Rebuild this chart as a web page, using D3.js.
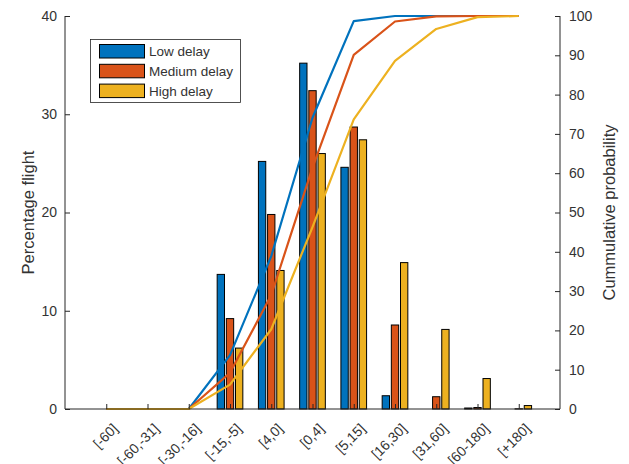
<!DOCTYPE html>
<html>
<head>
<meta charset="utf-8">
<script src="https://cdn.jsdelivr.net/npm/d3@7"></script>
<style>
  html, body { margin: 0; padding: 0; background: #fff; }
  svg { display: block; font-family: "Liberation Sans", Arial, sans-serif; }
</style>
</head>
<body>
<svg id="chart" width="629" height="464"></svg>
<script>
// ---- data ----
const categories = ["[-60]", "[-60,-31]", "[-30,-16]", "[-15,-5]", "[4,0]", "[0,4]", "[5,15]", "[16,30]", "[31,60]", "[60-180]", "[+180]"];
const seriesNames = ["Low delay", "Medium delay", "High delay"];
const lowPct    = [0, 0, 0, 13.7, 25.2, 35.2, 24.6, 1.35, 0, 0.1, 0];
const mediumPct = [0, 0, 0, 9.2, 19.8, 32.4, 28.7, 8.55, 1.25, 0.15, 0.02];
const highPct   = [0, 0, 0, 6.2, 14.1, 26.0, 27.4, 14.9, 8.1, 3.1, 0.35];
const lowCum    = [0, 0, 0, 13.7, 38.9, 74.1, 98.7, 100, 100, 100, 100];
const mediumCum = [0, 0, 0, 9.2, 29.0, 61.4, 90.1, 98.6, 99.9, 100, 100];
const highCum   = [0, 0, 0, 6.2, 20.3, 46.3, 73.7, 88.6, 96.7, 99.7, 100];
const leftTicks  = [0, 10, 20, 30, 40];
const rightTicks = [0, 10, 20, 30, 40, 50, 60, 70, 80, 90, 100];
const colors = ["#0072BD", "#D95319", "#EDB120"];

const pctSeries = [lowPct, mediumPct, highPct];
const cumSeries = [lowCum, mediumCum, highCum];

// ---- layout ----
const L = 65, R = 560, T = 16, B = 409;
const svg = d3.select("#chart");
const axisColor = "#262626";
const textColor = "#333333";
const tickFont = 14;
const titleFont = 16.5;

const x = d3.scaleLinear().domain([0, categories.length + 1]).range([L, R]);
const yL = d3.scaleLinear().domain([0, 40]).range([B, T]);
const yR = d3.scaleLinear().domain([0, 100]).range([B, T]);

const unit = x(1) - x(0);
const slot = unit * 0.6667 / 3;
const barW = slot * 0.8;

// bars
pctSeries.forEach((vals, s) => {
  svg.append("g").selectAll("rect").data(vals).join("rect")
    .attr("x", (d, i) => x(i + 1) + (s - 1) * slot - barW / 2)
    .attr("width", barW)
    .attr("y", d => yL(d))
    .attr("height", d => B - yL(d))
    .attr("fill", colors[s])
    .attr("stroke", "#000")
    .attr("stroke-width", 1)
    .attr("display", d => d > 0 ? null : "none");
});

// cumulative lines
const line = d3.line().x((d, i) => x(i + 1)).y(d => yR(d));
cumSeries.forEach((vals, s) => {
  svg.append("path").datum(vals)
    .attr("d", line)
    .attr("fill", "none")
    .attr("stroke", colors[s])
    .attr("stroke-width", 2.2)
    .attr("stroke-linejoin", "round");
});

// axes
const tickLen = 5;
const leftAxis = d3.axisLeft(yL).tickValues(leftTicks).tickSize(-tickLen).tickPadding(tickLen + 3);
const gL = svg.append("g").attr("transform", `translate(${L},0)`).call(leftAxis);
const rightAxis = d3.axisRight(yR).tickValues(rightTicks).tickSize(-tickLen).tickPadding(tickLen + 4);
const gR = svg.append("g").attr("transform", `translate(${R},0)`).call(rightAxis);
const bottomAxis = d3.axisBottom(x).tickValues(d3.range(1, categories.length + 1)).tickSize(-tickLen).tickFormat(() => "");
const gB = svg.append("g").attr("transform", `translate(0,${B})`).call(bottomAxis);

[gL, gR, gB].forEach(g => {
  g.select(".domain").attr("stroke", axisColor).attr("stroke-width", 1);
  g.selectAll(".tick line").attr("stroke", axisColor);
  g.selectAll("text").attr("fill", textColor).attr("font-size", tickFont)
    .attr("font-family", "'Liberation Sans', Arial, sans-serif");
});
gL.select(".domain").attr("d", `M0,${B}V${T}`);
gR.select(".domain").attr("d", `M0,${B}V${T}`);
gB.select(".domain").attr("d", `M${L},0H${R}`);

// x labels rotated
svg.append("g").selectAll("text").data(categories).join("text")
  .attr("transform", (d, i) => `translate(${x(i + 1) + 9},${B + 17}) rotate(-45)`)
  .attr("text-anchor", "end")
  .attr("dy", "0.35em")
  .attr("font-size", tickFont)
  .attr("fill", textColor)
  .text(d => d);

// axis titles
svg.append("text")
  .attr("transform", `translate(34,${(T + B) / 2}) rotate(-90)`)
  .attr("text-anchor", "middle")
  .attr("font-size", titleFont)
  .attr("fill", textColor)
  .text("Percentage flight");
svg.append("text")
  .attr("transform", `translate(615,${(T + B) / 2}) rotate(-90)`)
  .attr("text-anchor", "middle")
  .attr("font-size", titleFont)
  .attr("fill", textColor)
  .text("Cummulative probability");

// legend
const lg = svg.append("g");
lg.append("rect").attr("x", 90.5).attr("y", 39.5).attr("width", 150).attr("height", 63)
  .attr("fill", "#fff").attr("stroke", axisColor).attr("stroke-width", 0.8);
seriesNames.forEach((name, s) => {
  const yy = 44.5 + s * 19.8;
  lg.append("rect").attr("x", 99.5).attr("y", yy).attr("width", 45).attr("height", 13.5)
    .attr("fill", colors[s]).attr("stroke", "#000").attr("stroke-width", 1);
  lg.append("text").attr("x", 149).attr("y", yy + 7).attr("dy", "0.35em")
    .attr("font-size", 13.5).attr("fill", textColor).text(name);
});
</script>
</body>
</html>
